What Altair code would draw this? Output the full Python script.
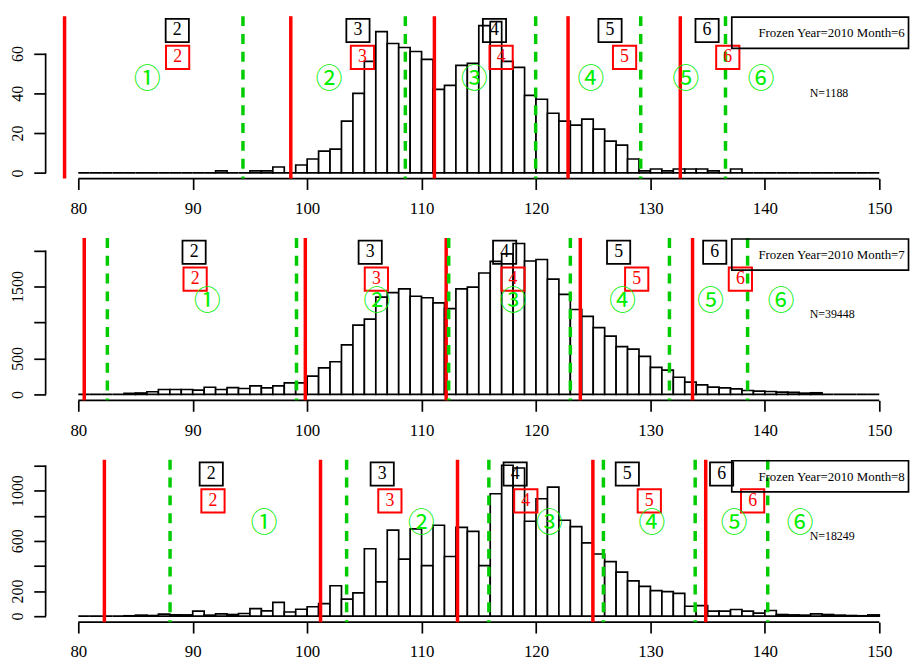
import altair as alt
import pandas as pd

# ---------------- data ----------------
bin_starts = list(range(80, 150))

counts_jun = [0, 0, 0, 0, 0, 0, 0, 0, 0, 0,
              0, 0, 1, 0, 0, 1, 1, 3, 0, 4,
              7, 11, 12, 26, 40, 56, 71, 65, 63, 61,
              57, 42, 44, 54, 55, 74, 76, 56, 53, 39,
              37, 30, 26, 24, 27, 22, 16, 14, 7, 1,
              2, 1, 2, 2, 2, 1, 0, 2, 0, 0,
              0, 0, 0, 0, 0, 0, 0, 0, 0, 0]

counts_jul = [0, 0, 0, 0, 15, 20, 37, 69, 69, 69,
              60, 100, 69, 96, 83, 119, 92, 119, 160, 160,
              255, 370, 454, 690, 963, 1046, 1353, 1415, 1468, 1365,
              1344, 1273, 1193, 1468, 1491, 1688, 1850, 1955, 2098, 1855,
              1876, 1603, 1392, 1181, 1085, 929, 810, 665, 630, 528,
              376, 339, 239, 170, 133, 101, 92, 78, 55, 46,
              41, 32, 28, 18, 23, 0, 0, 0, 0, 0]

counts_aug = [0, 0, 0, 0, 3, 8, 5, 16, 10, 10,
              40, 8, 18, 13, 21, 60, 42, 110, 33, 55,
              75, 100, 242, 135, 186, 537, 273, 685, 455, 695,
              402, 724, 475, 707, 675, 403, 975, 1202, 1180, 756,
              935, 1028, 764, 713, 584, 495, 435, 350, 281, 237,
              203, 195, 182, 79, 84, 40, 40, 53, 40, 24,
              45, 13, 10, 8, 18, 13, 8, 5, 3, 10]

red_jun = [78.8, 98.57, 111.12, 122.8, 132.61]
green_jun = [94.39, 108.58, 119.97, 129.15, 136.56]
red_jul = [80.52, 99.84, 112.15, 123.87, 133.68]
green_jul = [82.54, 99.07, 112.37, 123.0, 131.66, 138.49]
red_aug = [82.28, 101.17, 113.14, 124.97, 134.83]
green_aug = [88.02, 103.45, 115.88, 125.89, 133.91, 140.25]

black_box_x = [[88.65, 104.44, 116.37, 126.47, 134.95],
               [90.12, 105.51, 117.26, 127.22, 135.62],
               [91.62, 106.56, 118.18, 127.98, 136.22]]
red_box_x = [[88.68, 104.83, 116.95, 127.74, 136.76],
             [90.21, 106.05, 117.99, 128.80, 137.86],
             [91.77, 107.23, 119.11, 129.90, 138.93]]
circle_x = [[86.03, 101.92, 114.61, 124.79, 133.10, 139.68],
            [91.27, 106.09, 118.0, 127.57, 135.26, 141.41],
            [96.24, 109.98, 121.16, 130.12, 137.31, 143.08]]

box_labels = ["2", "3", "4", "5", "6"]
circle_labels = ["①", "②", "③", "④", "⑤", "⑥"]
titles = ["Frozen Year=2010 Month=6", "Frozen Year=2010 Month=7", "Frozen Year=2010 Month=8"]
n_labels = ["N=1188", "N=39448", "N=18249"]

x_ticks = [80, 90, 100, 110, 120, 130, 140, 150]
y_tick_values = [[0, 20, 40, 60],
                 [0, 500, 1000, 1500, 2000],
                 [0, 200, 400, 600, 800, 1000, 1200]]
y_tick_shown = [[0, 20, 40, 60], [0, 500, 1500], [0, 200, 600, 1000]]
y_domains = [[-2.82, 78.73], [-82.2, 2174.7], [-47.7, 1245.7]]

# ---------------- layout / style ----------------
W, H = 872, 164
X_DOMAIN = [77.145, 152.597]
SERIF = "Liberation Serif"
RED = "#FF0000"
GREEN_LINE = "#00CC00"
GREEN_TXT = "#00EE00"


def panel(i, counts, reds, greens):
    xs = alt.Scale(domain=X_DOMAIN, nice=False, zero=False)
    ys = alt.Scale(domain=y_domains[i], nice=False, zero=False)
    hist = pd.DataFrame({"lo": bin_starts,
                         "hi": [b + 1 for b in bin_starts],
                         "count": counts,
                         "base": [0] * len(bin_starts)})
    expr = " || ".join(f"datum.value == {v}" for v in y_tick_shown[i])

    bars = alt.Chart(hist).mark_rect(fill="white", stroke="black", strokeWidth=1.7).encode(
        x=alt.X("lo:Q", scale=xs,
                axis=alt.Axis(values=x_ticks, tickCount=len(x_ticks) + 2, title=None,
                              domain=False, grid=False,
                              tickSize=11, tickWidth=1.7, tickColor="black",
                              labelFont=SERIF, labelFontSize=17, labelColor="black",
                              labelPadding=11, labelFlush=False, labelOverlap=False,
                              format="d")),
        x2="hi",
        y=alt.Y("count:Q", scale=ys,
                axis=alt.Axis(values=y_tick_values[i], tickCount=len(y_tick_values[i]) + 2,
                              title=None, domain=False, grid=False, format="d",
                              tickSize=12, tickWidth=1.7, tickColor="black",
                              labelAngle=270, labelAlign="center", labelBaseline="alphabetic",
                              labelPadding=11, labelFont=SERIF, labelFontSize=16,
                              labelColor="black", labelExpr=f"({expr}) ? datum.label : ''",
                              labelOverlap=False, labelFlush=False,
                              minExtent=37, maxExtent=37)),
        y2="base",
    )

    ann = pd.DataFrame({"title": [titles[i]], "n": [n_labels[i]]})

    x_axis_line = alt.Chart(ann).mark_rule(color="black", strokeWidth=1.7).encode(
        x=alt.datum(x_ticks[0]), x2=alt.datum(x_ticks[-1]), y=alt.value(H))
    y_axis_line = alt.Chart(ann).mark_rule(color="black", strokeWidth=1.7).encode(
        x=alt.value(0), y=alt.datum(0), y2=alt.datum(y_tick_values[i][-1]))

    red_rules = alt.Chart(pd.DataFrame({"v": reds})).mark_rule(
        color=RED, strokeWidth=3.5).encode(
        x=alt.X("v:Q", scale=xs), y=alt.value(0), y2=alt.value(H))
    green_rules = alt.Chart(pd.DataFrame({"v": greens})).mark_rule(
        color=GREEN_LINE, strokeWidth=3.5, strokeDash=[10, 8]).encode(
        x=alt.X("v:Q", scale=xs), y=alt.value(0), y2=alt.value(H))

    bdf = pd.DataFrame({"v": black_box_x[i], "lab": box_labels})
    rdf = pd.DataFrame({"v": red_box_x[i], "lab": box_labels})
    gdf = pd.DataFrame({"v": circle_x[i], "lab": circle_labels})

    bbox = alt.Chart(bdf).mark_point(shape="square", filled=False, size=550, color="black",
                                      strokeWidth=1.8, opacity=1).encode(
        x=alt.X("v:Q", scale=xs), y=alt.value(14.4))
    btxt = alt.Chart(bdf).mark_text(font=SERIF, fontSize=18, color="black").encode(
        x=alt.X("v:Q", scale=xs), y=alt.value(14.4), text="lab:N")
    rbox = alt.Chart(rdf).mark_point(shape="square", filled=False, size=550, color=RED,
                                      strokeWidth=2, opacity=1).encode(
        x=alt.X("v:Q", scale=xs), y=alt.value(41.5))
    rtxt = alt.Chart(rdf).mark_text(font=SERIF, fontSize=18, color=RED).encode(
        x=alt.X("v:Q", scale=xs), y=alt.value(41.5), text="lab:N")
    gtxt = alt.Chart(gdf).mark_text(font="Noto Sans CJK SC", fontSize=27, color=GREEN_TXT).encode(
        x=alt.X("v:Q", scale=xs), y=alt.value(65), text="lab:N")

    lbox = alt.Chart(ann).mark_rect(fillOpacity=0, stroke="black", strokeWidth=1.7).encode(
        x=alt.value(693), x2=alt.value(871.5), y=alt.value(1), y2=alt.value(32.5))
    ltxt = alt.Chart(ann).mark_text(font=SERIF, fontSize=13, color="black", align="right").encode(
        x=alt.value(867.7), y=alt.value(17.3), text="title:N")
    ntxt = alt.Chart(ann).mark_text(font=SERIF, fontSize=12, color="black", align="left").encode(
        x=alt.value(771.7), y=alt.value(77.3), text="n:N")

    return alt.layer(bars, x_axis_line, y_axis_line, red_rules, green_rules,
                     bbox, btxt, rbox, rtxt, gtxt, lbox, ltxt, ntxt).properties(width=W, height=H)


p1 = panel(0, counts_jun, red_jun, green_jun)
p2 = panel(1, counts_jul, red_jul, green_jul)
p3 = panel(2, counts_aug, red_aug, green_aug)

chart = alt.vconcat(p1, p2, p3, spacing=60, bounds="flush").properties(
    padding={"left": 0, "top": 2, "right": 0, "bottom": 0}
).configure_view(stroke="transparent")

chart.save("out.html", embed_options={"renderer": "svg", "actions": False})
